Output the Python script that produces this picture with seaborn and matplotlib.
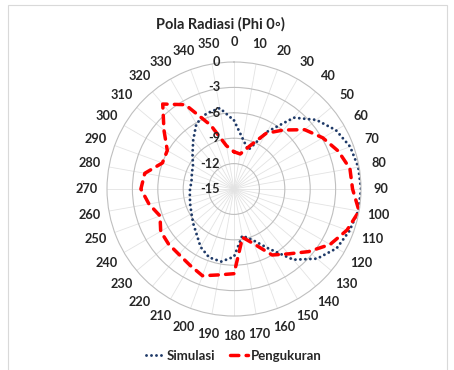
import numpy as np
import pandas as pd
import matplotlib
matplotlib.use("Agg")
import matplotlib.pyplot as plt
from matplotlib.patches import Rectangle
import seaborn as sns

# sudut (derajat) dan nilai dB
sudut = list(range(0, 360, 10))
simulasi = [-6.9, -9.0, -10.1, -7.2, -4.0, -2.3, -1.1, -0.4, -0.1, 0.0,
            -0.1, -0.5, -1.0, -2.2, -4.1, -6.9, -8.6, -9.4, -7.0, -6.3,
            -6.4, -7.1, -8.1, -8.7, -9.2, -9.5, -9.7, -9.8, -9.9, -9.7,
            -9.4, -8.6, -7.5, -6.1, -5.5, -5.3]
pengukuran = [-10.6, -10.8, -9.6, -7.4, -5.9, -4.1, -2.9, -1.9, -1.1, -1.0,
              0.0, -0.8, -1.9, -3.5, -5.0, -6.0, -8.1, -9.2, -5.0, -4.7,
              -4.1, -4.6, -4.9, -4.9, -5.0, -5.7, -4.8, -4.0, -4.3, -6.0,
              -5.9, -4.2, -1.9, -3.5, -7.0, -9.8]
r_ticks = [0, -3, -6, -9, -12, -15]

sns.set_style("white")
plt.rcParams["font.family"] = ["Lato", "DejaVu Sans"]

fig = plt.figure(figsize=(4.54, 3.70), dpi=100)
ax = fig.add_axes([0.2357, 0.1459, 0.5595, 0.6865], projection="polar")
ax.set_theta_zero_location("N")
ax.set_theta_direction(-1)


def closed(vals):
    th = np.deg2rad(sudut + [360])
    return pd.DataFrame({"theta": th, "r": list(vals) + [vals[0]]})


d_sim = closed(simulasi)
d_ukur = closed(pengukuran)

sns.lineplot(data=d_sim, x="theta", y="r", ax=ax, sort=False, estimator=None,
             color="#1f3a68", linewidth=2.1, linestyle=(0, (0.01, 1.7)),
             dash_capstyle="round", label="Simulasi")
sns.lineplot(data=d_ukur, x="theta", y="r", ax=ax, sort=False, estimator=None,
             color="#ff0000", linewidth=2.5, linestyle=(0, (2.4, 2.1)),
             dash_capstyle="round", label="Pengukuran")

ax.set_ylim(-15, 0)
ax.set_yticks([-12, -9, -6, -3])
ax.set_yticklabels([])
ax.set_xlabel("")
ax.set_ylabel("")
ax.set_thetagrids(sudut, [""] * len(sudut))
ax.xaxis.grid(True, color="#e3e3e3", linewidth=0.6)
ax.yaxis.grid(True, color="#bfbfbf", linewidth=0.8)
ax.spines["polar"].set_color("#bfbfbf")
ax.spines["polar"].set_linewidth(0.8)

# label sudut di luar lingkaran (sedikit di atas batas sumbu r)
r_lbl = -15 + 15 * 147 / 127
for s in sudut:
    ax.text(np.deg2rad(s), r_lbl, str(s), ha="center", va="center",
            fontsize=9.2, fontweight="bold", clip_on=False)

for v in r_ticks:
    ax.annotate(str(v), xy=(0, v), xytext=(-10, 0), textcoords="offset points",
                ha="right", va="center", fontsize=9.2, fontweight="bold")

ax.get_legend().remove()
h, l = ax.get_legend_handles_labels()
fig.legend(h, l, loc="center", bbox_to_anchor=(0.515, 0.038), ncol=2, frameon=False,
           prop={"weight": "bold", "size": 9.5}, handlelength=1.4,
           handletextpad=0.15, columnspacing=1.1)

fig.text(0.4846, 0.935, "Pola Radiasi (Phi 0\u25e6)", ha="center", va="center",
         fontsize=10.5, fontweight="bold")

fig.patches.append(Rectangle((0.0176, -0.01), 0.967, 0.9965, transform=fig.transFigure,
                             fill=False, edgecolor="#d9d9d9", linewidth=0.8))

fig.savefig("out.png", dpi=100)
